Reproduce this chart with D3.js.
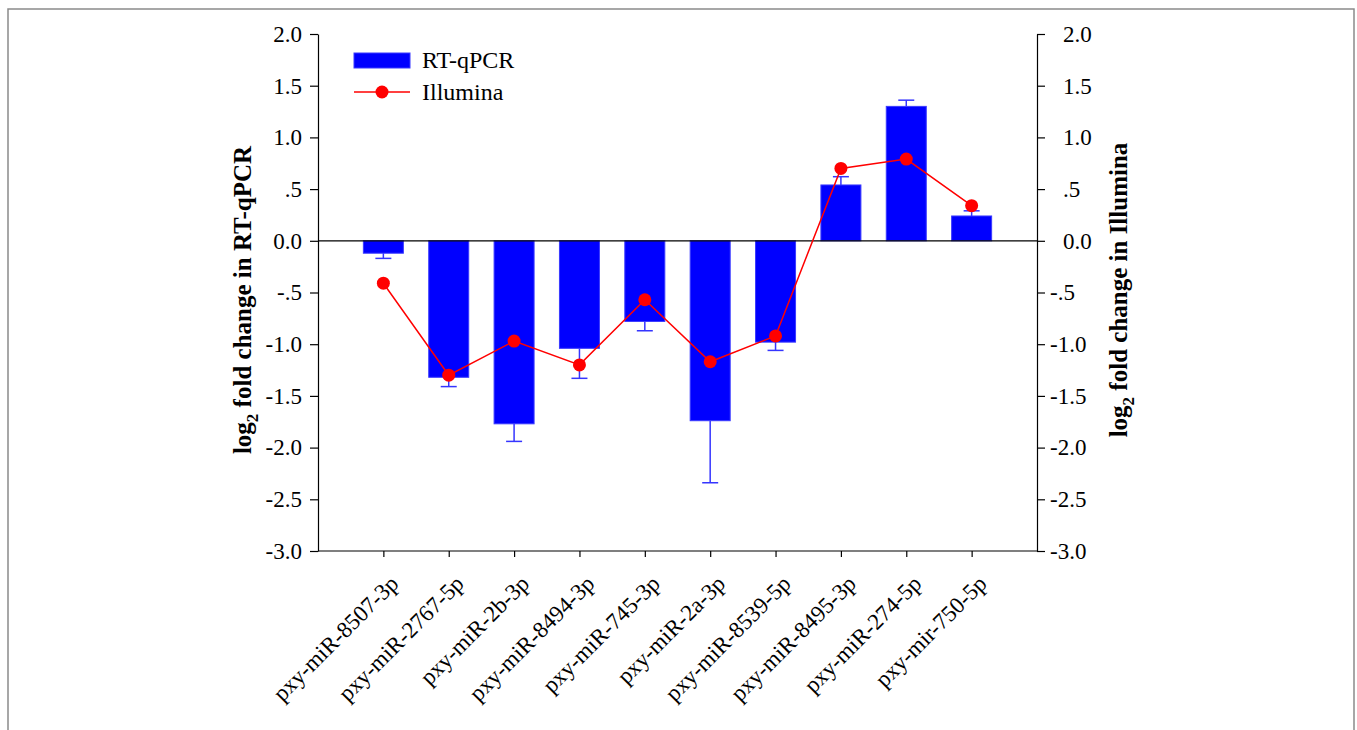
<!DOCTYPE html>
<html>
<head>
<meta charset="utf-8">
<script src="https://cdn.jsdelivr.net/npm/d3@7"></script>
<style>
    body { margin: 0; background: #fff; }
    svg text { font-family: "Liberation Serif", "Times New Roman", serif; }
    .frame { fill: none; stroke: #8a8a8a; stroke-width: 1.5; }
    .axis path, .axis line { stroke: #000; stroke-width: 1.2; }
    .axis text { font-size: 23px; fill: #000; }
    .title { font-size: 25px; font-weight: bold; }
</style>
</head>
<body>
<svg class="chart" width="1357" height="730"></svg>
<script>
    const mirnas = ['pxy-miR-8507-3p', 'pxy-miR-2767-5p', 'pxy-miR-2b-3p', 'pxy-miR-8494-3p',
        'pxy-miR-745-3p', 'pxy-miR-2a-3p', 'pxy-miR-8539-5p', 'pxy-miR-8495-3p',
        'pxy-miR-274-5p', 'pxy-mir-750-5p'];
    const qpcr = [-0.12, -1.32, -1.77, -1.04, -0.78, -1.74, -0.98, 0.54, 1.30, 0.24];
    const qpcrErr = [0.05, 0.09, 0.17, 0.29, 0.09, 0.60, 0.08, 0.08, 0.06, 0.05];
    const illumina = [-0.41, -1.30, -0.97, -1.20, -0.57, -1.17, -0.92, 0.70, 0.79, 0.34];
    const yTicks = [2.0, 1.5, 1.0, 0.5, 0.0, -0.5, -1.0, -1.5, -2.0, -2.5, -3.0];

    const plotLeft = 318, plotRight = 1037, plotTop = 34, plotBottom = 551;

    let svg = d3.select('.chart');

    svg.append('path')
        .attr('class', 'frame')
        .attr('d', 'M8,731V9H1354V731');

    let x = d3.scalePoint()
        .domain(mirnas)
        .range([plotLeft, plotRight])
        .padding(1);

    let y = d3.scaleLinear()
        .domain([-3, 2])
        .range([plotBottom, plotTop]);

    // SigmaPlot style: ".5", "-.5", plain hyphen for minus
    function fmt(v) {
        let s = Math.abs(v).toFixed(1);
        if (Math.abs(v) === 0.5) {
            s = s.replace('0.', '.');
        }
        return (v < 0 ? '-' : '') + s;
    }

    // left axis
    svg.append('g')
        .attr('class', 'axis')
        .attr('transform', `translate(${plotLeft},0)`)
        .call(d3.axisLeft(y).tickValues(yTicks).tickFormat(fmt).tickSize(8).tickSizeOuter(0).tickPadding(8));

    // right axis, minus signs hang to the left
    let rightAxis = svg.append('g')
        .attr('class', 'axis')
        .attr('transform', `translate(${plotRight},0)`)
        .call(d3.axisRight(y).tickValues(yTicks).tickFormat(fmt).tickSize(8).tickSizeOuter(0).tickPadding(18));

    rightAxis.selectAll('.tick text')
        .attr('dx', d => d < 0 ? -13 : 0);

    // bottom axis
    let xAxis = svg.append('g')
        .attr('class', 'axis')
        .attr('transform', `translate(0,${plotBottom})`)
        .call(d3.axisBottom(x).tickSize(6).tickSizeOuter(0));

    xAxis.select('.domain')
        .attr('d', `M${plotLeft},0H${plotRight}`);

    xAxis.selectAll('.tick text')
        .attr('text-anchor', 'end')
        .attr('dy', null)
        .attr('y', 0)
        .attr('transform', 'translate(16,34) rotate(-45)');

    // bars
    svg.append('g')
        .selectAll('rect')
        .data(qpcr)
        .enter()
        .append('rect')
        .attr('x', (d, i) => x(mirnas[i]) - 20)
        .attr('width', 40)
        .attr('y', d => y(Math.max(d, 0)))
        .attr('height', d => Math.abs(y(d) - y(0)))
        .style('fill', '#0000ff')
        .style('stroke', '#3a3aff')
        .style('stroke-width', 1);

    // one-sided error bars
    let err = svg.append('g')
        .style('stroke', '#3535ff')
        .style('stroke-width', 1.5);

    err.selectAll('.err-v')
        .data(qpcr)
        .enter()
        .append('line')
        .attr('x1', (d, i) => x(mirnas[i]))
        .attr('x2', (d, i) => x(mirnas[i]))
        .attr('y1', d => y(d))
        .attr('y2', (d, i) => y(d + Math.sign(d) * qpcrErr[i]));

    err.selectAll('.err-c')
        .data(qpcr)
        .enter()
        .append('line')
        .attr('x1', (d, i) => x(mirnas[i]) - 8)
        .attr('x2', (d, i) => x(mirnas[i]) + 8)
        .attr('y1', (d, i) => y(d + Math.sign(d) * qpcrErr[i]))
        .attr('y2', (d, i) => y(d + Math.sign(d) * qpcrErr[i]));

    // zero line
    svg.append('line')
        .attr('x1', plotLeft)
        .attr('x2', plotRight)
        .attr('y1', y(0))
        .attr('y2', y(0))
        .style('stroke', '#000')
        .style('stroke-width', 1.2);

    // illumina line
    let line = d3.line()
        .x((d, i) => x(mirnas[i]))
        .y(d => y(d));

    svg.append('path')
        .datum(illumina)
        .attr('d', line)
        .style('fill', 'none')
        .style('stroke', '#ff0000')
        .style('stroke-width', 1.5);

    svg.append('g')
        .selectAll('circle')
        .data(illumina)
        .enter()
        .append('circle')
        .attr('cx', (d, i) => x(mirnas[i]))
        .attr('cy', d => y(d))
        .attr('r', 6.5)
        .style('fill', '#ff0000');

    // legend
    let legend = svg.append('g');

    legend.append('rect')
        .attr('x', 354)
        .attr('y', 53)
        .attr('width', 56)
        .attr('height', 15)
        .style('fill', '#0000ff')
        .style('stroke', '#3a3aff');

    legend.append('line')
        .attr('x1', 354)
        .attr('x2', 410)
        .attr('y1', 92)
        .attr('y2', 92)
        .style('stroke', '#ff0000')
        .style('stroke-width', 1.5);

    legend.append('circle')
        .attr('cx', 382)
        .attr('cy', 92)
        .attr('r', 6.5)
        .style('fill', '#ff0000');

    legend.selectAll('text')
        .data(['RT-qPCR', 'Illumina'])
        .enter()
        .append('text')
        .attr('x', 422)
        .attr('y', (d, i) => 68 + i * 32)
        .style('font-size', '24px')
        .text(d => d);

    // axis titles
    function axisTitle(cx, cy, label) {
        let t = svg.append('text')
            .attr('class', 'title')
            .attr('text-anchor', 'middle')
            .attr('transform', `translate(${cx},${cy}) rotate(-90)`);
        t.append('tspan').text('log');
        t.append('tspan').attr('dy', 7).style('font-size', '17px').text('2');
        t.append('tspan').attr('dy', -7).text(' fold change in ' + label);
    }

    axisTitle(251, 300, 'RT-qPCR');
    axisTitle(1127, 290, 'Illumina');
</script>
</body>
</html>
